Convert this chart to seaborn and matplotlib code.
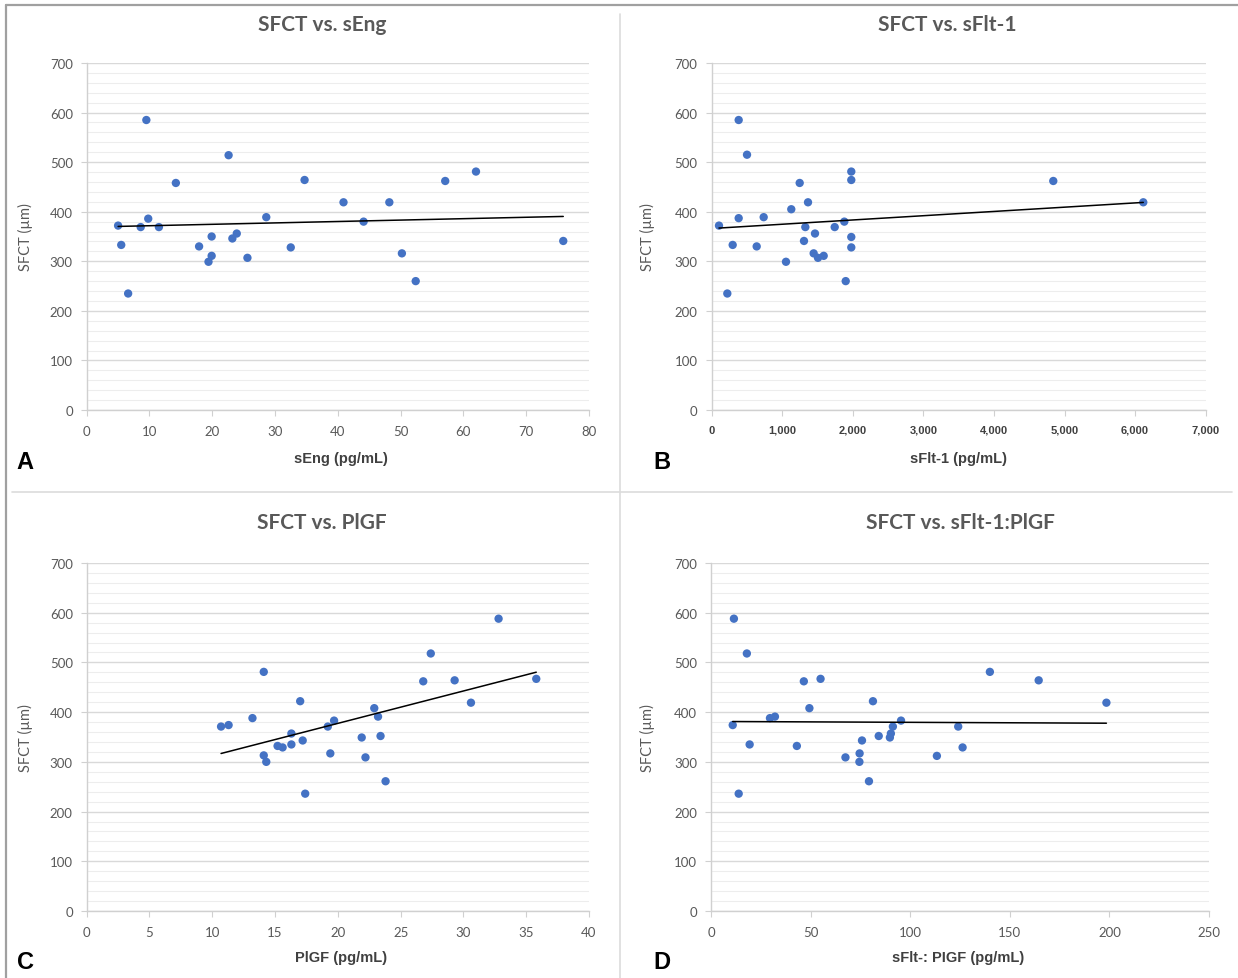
import numpy as np
import pandas as pd
import matplotlib.pyplot as plt
from matplotlib.lines import Line2D
from matplotlib.ticker import MultipleLocator, FuncFormatter
import seaborn as sns

# ---- data (SFCT in µm) ----
seng = [9.5, 22.6, 14.2, 34.7, 57.1, 62.0, 40.9, 48.2, 28.6, 44.1, 5.0, 9.8, 8.6, 11.5,
        75.9, 5.5, 19.9, 23.2, 23.9, 17.9, 32.5, 19.9, 19.4, 25.6, 50.2, 52.4, 6.6]
sfct_a = [585, 514, 458, 464, 462, 481, 419, 419, 389, 380, 372, 386, 369, 369,
          341, 333, 350, 346, 356, 330, 328, 311, 299, 307, 316, 260, 235]

sflt = [385, 503, 1980, 1980, 4841, 6116, 1249, 1367, 1130, 385, 739, 106, 1329, 1745,
        1881, 1466, 1980, 1310, 300, 640, 1980, 1447, 1508, 1589, 1055, 1901, 224]
sfct_b = [585, 515, 481, 464, 462, 419, 458, 419, 405, 387, 389, 372, 369, 369,
          380, 356, 349, 341, 333, 330, 328, 316, 307, 311, 299, 260, 235]

plgf = [32.8, 27.4, 14.1, 26.8, 29.3, 35.8, 30.6, 17.0, 22.9, 23.2, 13.2, 10.7, 11.3, 19.7,
        19.2, 16.3, 23.4, 21.9, 17.2, 16.3, 15.2, 15.6, 19.4, 14.1, 14.3, 22.2, 23.8, 17.4]
sfct_c = [588, 518, 481, 462, 464, 467, 419, 422, 408, 391, 388, 371, 374, 383,
          371, 357, 352, 349, 343, 335, 332, 329, 317, 313, 300, 309, 261, 236]

ratio = [11.5, 18.0, 46.6, 55.0, 140.0, 164.5, 198.5, 81.3, 49.4, 29.6, 32.1, 10.9, 95.4, 91.3,
         124.1, 90.3, 89.8, 84.2, 75.8, 19.4, 43.1, 126.3, 74.6, 67.5, 113.4, 74.5, 79.3, 13.9]
sfct_d = [588, 518, 462, 467, 481, 464, 419, 422, 408, 388, 391, 374, 383, 371,
          371, 357, 349, 352, 343, 335, 332, 329, 317, 309, 312, 300, 261, 236]

titles = ['SFCT vs. sEng', 'SFCT vs. sFlt-1', 'SFCT vs. PlGF', 'SFCT vs. sFlt-1:PlGF']
xlabels = ['sEng (pg/mL)', 'sFlt-1 (pg/mL)', 'PlGF (pg/mL)', 'sFlt-: PIGF (pg/mL)']
letters = ['A', 'B', 'C', 'D']
xmaxes = [80, 7000, 40, 250]
xsteps = [10, 1000, 5, 50]

W, H = 1238, 979
def fx(px):
    return px / W
def fy(py):
    return 1 - py / H

sns.set_theme(style="white")
plt.rcParams['font.family'] = ['Lato', 'DejaVu Sans']

fig = plt.figure(figsize=(W / 100, H / 100), dpi=100)

# plot areas in pixels: left, top, right, bottom
boxes = [(86.7, 64, 589, 411), (711.5, 64, 1205.7, 411),
         (86.7, 564, 589, 912), (711, 564, 1209, 912)]
title_pos = [(322, 25), (947, 25), (322, 523), (960, 523)]
letter_pos = [(25, 463), (662, 463), (25, 963), (662, 963)]
xlabel_top = [452, 452, 951, 951]
xlabel_x = [341, 958, 341, 958]
ylabel_x = [33, 655, 33, 655]

datasets = [(seng, sfct_a), (sflt, sfct_b), (plgf, sfct_c), (ratio, sfct_d)]
blue = '#4472c4'
grey = '#595959'

for i, (xs, ys) in enumerate(datasets):
    l, t, r, b = boxes[i]
    ax = fig.add_axes([fx(l), fy(b), fx(r - l), (b - t) / H])
    df = pd.DataFrame({'x': xs, 'y': ys})
    sns.scatterplot(data=df, x='x', y='y', ax=ax, color=blue, s=36,
                    edgecolor='none', zorder=3)
    sns.regplot(data=df, x='x', y='y', ax=ax, scatter=False, ci=None,
                truncate=True, line_kws=dict(color='black', lw=1.1, zorder=4))

    ax.set_xlim(0, xmaxes[i])
    ax.set_ylim(0, 700)
    ax.xaxis.set_major_locator(MultipleLocator(xsteps[i]))
    ax.yaxis.set_major_locator(MultipleLocator(100))
    ax.yaxis.set_minor_locator(MultipleLocator(20))
    ax.grid(axis='y', which='major', color='#d9d9d9', lw=1.0)
    ax.grid(axis='y', which='minor', color='#ededed', lw=0.8)
    ax.grid(axis='x', visible=False)
    ax.set_axisbelow(True)
    for s in ['top', 'right']:
        ax.spines[s].set_visible(False)
    for s in ['left', 'bottom']:
        ax.spines[s].set_color('#d0d0d0')
        ax.spines[s].set_linewidth(1.0)

    ax.tick_params(axis='both', which='major', direction='out', length=4,
                   width=0.8, color='#d0d0d0', labelsize=9.5, labelcolor=grey)
    ax.tick_params(axis='y', which='major', left=True, pad=6)
    ax.tick_params(axis='x', which='major', bottom=True, pad=6.5)
    ax.tick_params(axis='y', which='minor', left=False)

    if i == 1:
        ax.xaxis.set_major_formatter(FuncFormatter(lambda v, p: f'{int(v):,}'))
        for lab in ax.get_xticklabels()[1:]:
            lab.set_family(['Liberation Sans', 'DejaVu Sans'])
            lab.set_fontweight('bold')
            lab.set_color('#404040')
            lab.set_fontsize(8)

    ax.set_xlabel(xlabels[i], family=['Liberation Sans', 'DejaVu Sans'],
                  fontweight='bold', fontsize=10.5, color='#404040')
    ax.xaxis.set_label_coords((xlabel_x[i] - l) / (r - l), (b - xlabel_top[i]) / (b - t))
    ax.set_ylabel('SFCT (µm)', fontsize=10.5, color=grey)
    ax.yaxis.set_label_coords((ylabel_x[i] - l) / (r - l), 0.5)

    tx, ty = title_pos[i]
    fig.text(fx(tx), fy(ty), titles[i], ha='center', va='center',
             fontsize=15, fontweight='bold', color=grey)
    lx, ly = letter_pos[i]
    fig.text(fx(lx), fy(ly), letters[i], ha='center', va='center',
             fontsize=17, fontweight='bold', color='black',
             family=['Liberation Sans', 'DejaVu Sans'])

# frame and separators
fig.add_artist(Line2D([fx(6), fx(1238)], [fy(6), fy(6)], color='#a0a0a0', lw=1.6))
fig.add_artist(Line2D([fx(6), fx(6)], [fy(6), fy(979)], color='#a0a0a0', lw=1.6))
fig.add_artist(Line2D([fx(620), fx(620)], [fy(15), fy(979)], color='#dcdcdc', lw=1.2))
fig.add_artist(Line2D([fx(12), fx(1232)], [fy(493), fy(493)], color='#dcdcdc', lw=1.2))

fig.savefig('out.png', dpi=100, facecolor='white')
